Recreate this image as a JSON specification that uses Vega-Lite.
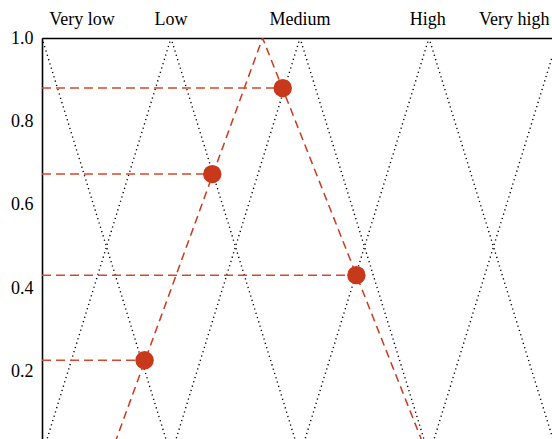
{
  "$schema": "https://vega.github.io/schema/vega-lite/v6.json",
  "width": 510,
  "height": 401,
  "autosize": {"type": "none"},
  "padding": {"left": 42, "top": 38, "right": 0, "bottom": 0},
  "background": "white",
  "config": {
    "view": {"stroke": null},
    "font": "Liberation Serif",
    "axis": {"labelFont": "Liberation Serif", "labelColor": "black"}
  },
  "datasets": {
    "membership": [
      {"term": "Very low", "u": -1, "v": 0, "k": 0},
      {"term": "Very low", "u": 0, "v": 1, "k": 1},
      {"term": "Very low", "u": 1, "v": 0, "k": 2},
      {"term": "Low", "u": 0, "v": 0, "k": 0},
      {"term": "Low", "u": 1, "v": 1, "k": 1},
      {"term": "Low", "u": 2, "v": 0, "k": 2},
      {"term": "Medium", "u": 1, "v": 0, "k": 0},
      {"term": "Medium", "u": 2, "v": 1, "k": 1},
      {"term": "Medium", "u": 3, "v": 0, "k": 2},
      {"term": "High", "u": 2, "v": 0, "k": 0},
      {"term": "High", "u": 3, "v": 1, "k": 1},
      {"term": "High", "u": 4, "v": 0, "k": 2},
      {"term": "Very high", "u": 3, "v": 0, "k": 0},
      {"term": "Very high", "u": 4, "v": 1, "k": 1},
      {"term": "Very high", "u": 5, "v": 0, "k": 2}
    ],
    "input": [
      {"u": 0.53, "v": 0, "k": 0},
      {"u": 1.71, "v": 1, "k": 1},
      {"u": 2.99, "v": 0, "k": 2}
    ],
    "degrees": [
      {"u0": 0, "u": 1.866, "v": 0.88},
      {"u0": 0, "u": 1.32, "v": 0.674},
      {"u0": 0, "u": 2.437, "v": 0.432},
      {"u0": 0, "u": 0.795, "v": 0.228}
    ],
    "terms": [
      {"name": "Very low", "u": 0.31},
      {"name": "Low", "u": 1.0},
      {"name": "Medium", "u": 2.0},
      {"name": "High", "u": 2.99},
      {"name": "Very high", "u": 3.66}
    ]
  },
  "layer": [
    {
      "data": {"name": "membership"},
      "mark": {"type": "line", "clip": true, "color": "#000000", "strokeWidth": 1.4, "strokeDash": [1.2, 3.3]},
      "encoding": {
        "x": {
          "field": "u", "type": "quantitative",
          "scale": {"domain": [0, 3.9535], "nice": false, "zero": false},
          "axis": {"orient": "top", "labels": false, "ticks": false, "grid": false, "domain": true, "domainColor": "black", "domainWidth": 1.6, "title": null}
        },
        "y": {
          "field": "v", "type": "quantitative",
          "scale": {"domain": [0.0395, 1], "nice": false, "zero": false},
          "axis": {"values": [0.2, 0.4, 0.6, 0.8, 1.0], "format": ".1f", "ticks": false, "grid": false, "domain": true, "domainColor": "black", "domainWidth": 1.6, "labelFontSize": 18, "labelPadding": 9, "title": null}
        },
        "detail": {"field": "term"},
        "order": {"field": "k"}
      }
    },
    {
      "data": {"name": "input"},
      "mark": {"type": "line", "clip": true, "color": "#cc3a1e", "strokeWidth": 1.5, "strokeDash": [8, 5]},
      "encoding": {
        "x": {"field": "u", "type": "quantitative"},
        "y": {"field": "v", "type": "quantitative"},
        "order": {"field": "k"}
      }
    },
    {
      "data": {"name": "degrees"},
      "mark": {"type": "rule", "clip": true, "color": "#d24a2e", "strokeWidth": 1.5, "strokeDash": [9, 5]},
      "encoding": {
        "x": {"field": "u0", "type": "quantitative"},
        "x2": {"field": "u"},
        "y": {"field": "v", "type": "quantitative"}
      }
    },
    {
      "data": {"name": "degrees"},
      "mark": {"type": "circle", "color": "#c8381b", "opacity": 1, "size": 340},
      "encoding": {
        "x": {"field": "u", "type": "quantitative"},
        "y": {"field": "v", "type": "quantitative"}
      }
    },
    {
      "data": {"name": "terms"},
      "mark": {"type": "text", "fontSize": 18, "color": "black", "baseline": "alphabetic", "align": "center", "dy": -13},
      "encoding": {
        "x": {"field": "u", "type": "quantitative"},
        "y": {"datum": 1},
        "text": {"field": "name"}
      }
    }
  ]
}
